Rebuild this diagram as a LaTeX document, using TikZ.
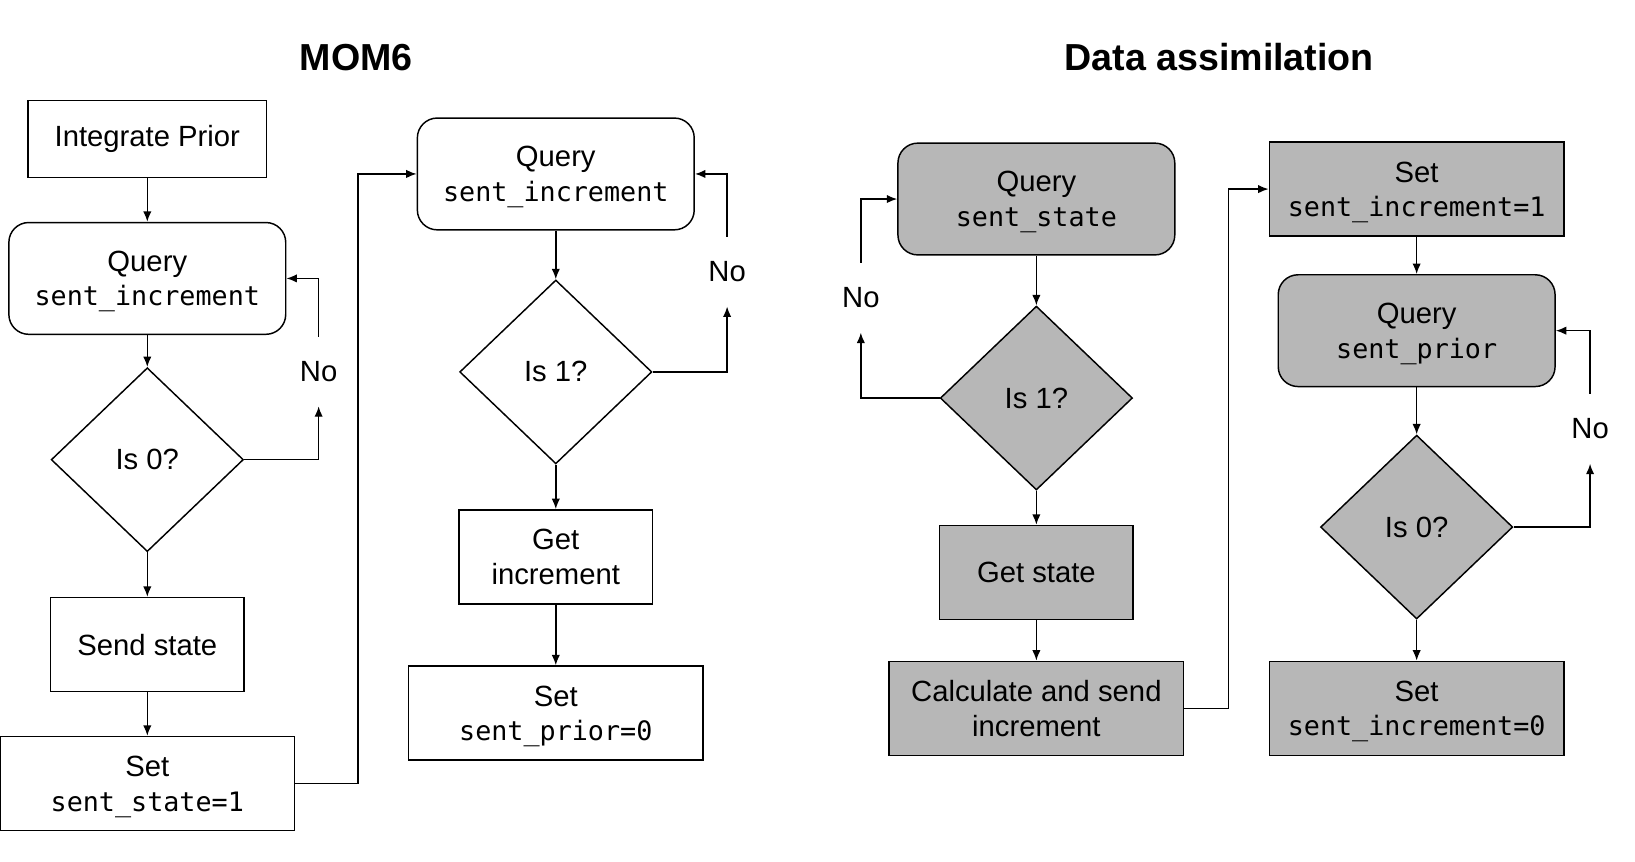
\documentclass[tikz,border=0pt]{standalone}
\usepackage{fontspec}
\setmainfont{Liberation Sans}
\setmonofont{DejaVu Sans Mono}
\usepackage{tikz}
\usetikzlibrary{shapes.geometric}
\usetikzlibrary{arrows.meta}
\definecolor{dagray}{HTML}{B7B7B7}
\newcommand{\mono}[1]{\raisebox{0pt}[\height][0pt]{\ttfamily\fontsize{12.8}{16.5}\selectfont #1}}
\tikzset{
  base/.style={draw=black, line width=0.7pt, inner sep=0pt, align=center,
    font=\fontsize{14}{16.5}\selectfont},
  box/.style={base, rectangle, minimum width=141pt, minimum height=45pt},
  smallbox/.style={base, rectangle, minimum width=92.5pt, minimum height=45pt},
  qbox/.style={base, rectangle, rounded corners=9.5pt, minimum width=132.5pt, minimum height=53.5pt},
  decide/.style={base, diamond, minimum width=92pt, minimum height=88pt},
  da/.style={fill=dagray},
  nolab/.style={inner sep=0pt, minimum height=33pt, font=\fontsize{14}{16.5}\selectfont},
  ttl/.style={font=\fontsize{18}{20}\selectfont\bfseries},
  arr/.style={-{Latex[length=5pt,width=4pt]}, line width=0.7pt}
}

\begin{document}
\begin{tikzpicture}[x=0.5pt, y=-0.5pt]
\useasboundingbox (0,0) rectangle (1565,825);
%titles
\node[ttl] (tmom) at (341,55) {MOM6};
\node[ttl] (tda) at (1167,55) {Data assimilation};
%MOM6, first column
\node[base, rectangle, minimum width=114pt, minimum height=37pt] (ip) at (141,133) {Integrate Prior};
\node[qbox] (q1) at (141,266.5) {Query\\\mono{sent\_increment}};
\node[decide] (d1) at (141,440) {Is 0?};
\node[smallbox] (ss) at (141,617) {Send state};
\node[box] (s1) at (141,750) {Set\\\mono{sent\_state=1}};
\node[nolab] (n1) at (305,355.5) {No};
%MOM6, second column
\node[qbox] (q2) at (532,166.5) {Query\\\mono{sent\_increment}};
\node[decide] (d2) at (532,356) {Is 1?};
\node[smallbox] (gi) at (532,533) {Get\\increment};
\node[box] (sp) at (532,682.5) {Set\\\mono{sent\_prior=0}};
\node[nolab] (n2) at (696,260) {No};
%DA, first column
\node[qbox, da] (q3) at (992,190.5) {Query\\\mono{sent\_state}};
\node[decide, da] (d3) at (992,381) {Is 1?};
\node[smallbox, da] (gs) at (992,548) {Get state};
\node[box, da] (cs) at (992,678) {Calculate and send\\increment};
\node[nolab] (n3) at (824,285) {No};
%DA, second column
\node[box, da] (si1) at (1356,181) {Set\\\mono{sent\_increment=1}};
\node[qbox, da] (q4) at (1356,316.5) {Query\\\mono{sent\_prior}};
\node[decide, da] (d4) at (1356,504.5) {Is 0?};
\node[box, da] (si0) at (1356,678) {Set\\\mono{sent\_increment=0}};
\node[nolab] (n4) at (1522,410.5) {No};
%arrows
\draw[arr] (ip) -- (q1);
\draw[arr] (q1) -- (d1);
\draw[arr] (d1) -- (ss);
\draw[arr] (ss) -- (s1);
\draw[arr] (d1.east) -| (n1.south);
\draw[arr] (n1.north) |- (q1.east);
\draw[arr] (s1.east) -- ++(60,0) |- (q2.west);
\draw[arr] (q2) -- (d2);
\draw[arr] (d2) -- (gi);
\draw[arr] (gi) -- (sp);
\draw[arr] (d2.east) -| (n2.south);
\draw[arr] (n2.north) |- (q2.east);
\draw[arr] (q3) -- (d3);
\draw[arr] (d3) -- (gs);
\draw[arr] (gs) -- (cs);
\draw[arr] (d3.west) -| (n3.south);
\draw[arr] (n3.north) |- (q3.west);
\draw[arr] (cs.east) -- ++(42,0) |- (si1.west);
\draw[arr] (si1) -- (q4);
\draw[arr] (q4) -- (d4);
\draw[arr] (d4) -- (si0);
\draw[arr] (d4.east) -| (n4.south);
\draw[arr] (n4.north) |- (q4.east);
\end{tikzpicture}
\end{document}
